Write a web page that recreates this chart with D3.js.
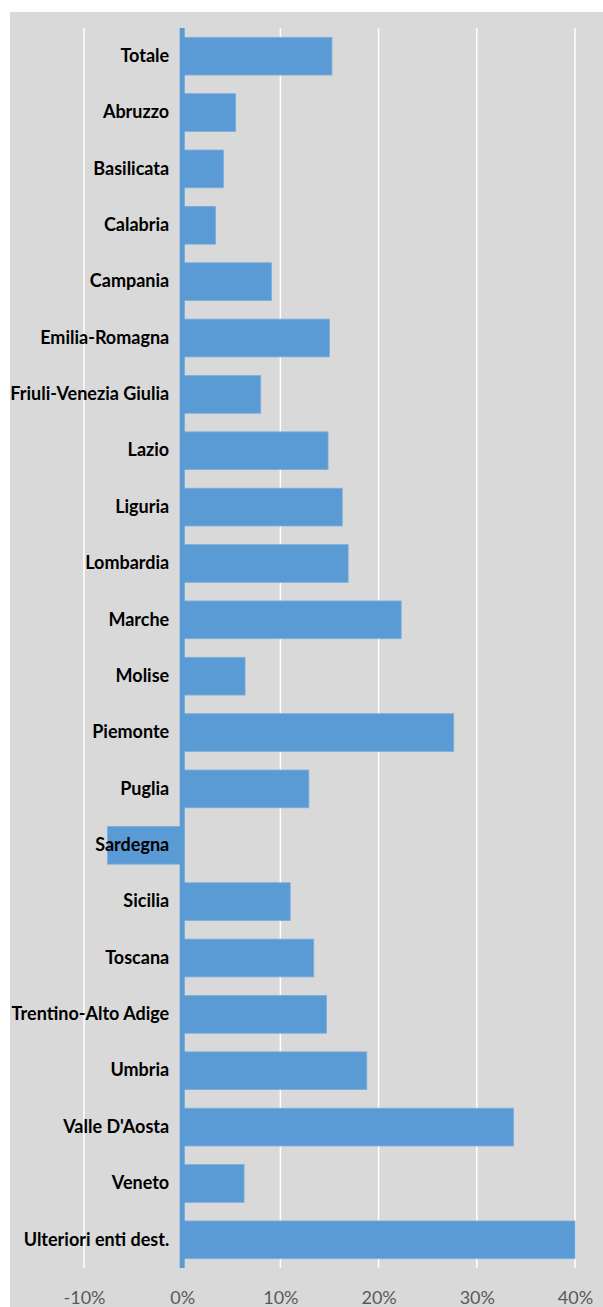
<!DOCTYPE html>
<html>
<head>
<meta charset="utf-8">
<script src="https://cdn.jsdelivr.net/npm/d3@7"></script>
<style>
    body { margin: 0; background: #ffffff; }
</style>
</head>
<body>
<script>
// Data
const categories = ["Totale", "Abruzzo", "Basilicata", "Calabria", "Campania", "Emilia-Romagna",
    "Friuli-Venezia Giulia", "Lazio", "Liguria", "Lombardia", "Marche", "Molise", "Piemonte",
    "Puglia", "Sardegna", "Sicilia", "Toscana", "Trentino-Alto Adige", "Umbria", "Valle D'Aosta",
    "Veneto", "Ulteriori enti dest."];
const values = [0.1525, 0.0545, 0.042, 0.034, 0.091, 0.150, 0.080, 0.1485, 0.163, 0.169, 0.223,
    0.064, 0.2765, 0.129, -0.076, 0.110, 0.134, 0.147, 0.188, 0.3375, 0.063, 0.400];
const tickValues = [-0.1, 0, 0.1, 0.2, 0.3, 0.4];
const tickLabels = ["-10%", "0%", "10%", "20%", "30%", "40%"];
const xDomain = [-0.1, 0.4];

let margin = null,
    width = null,
    height = null;

let svg = null, root = null;
let x, y = null;

// Main Process
setupCanvasSize();
appendSvg("body");
setupXScale();
setupYScale();
appendGridLines();
appendChartBars();
appendZeroLine();
appendXAxis();
appendYAxis();

function setupCanvasSize() {
    margin = {top: 28, left: 84, bottom: 39, right: 28};
    width = 603 - margin.left - margin.right;
    height = 1307 - margin.top - margin.bottom;
}

function appendSvg(domElement) {
    root = d3.select(domElement).append("svg")
            .attr("width", 603)
            .attr("height", 1307);

    root.append("clipPath")
        .attr("id", "chartClip")
        .append("rect")
        .attr("x", 10).attr("y", 12)
        .attr("width", 593).attr("height", 1295);

    let area = root.append("g").attr("clip-path", "url(#chartClip)");

    area.append("rect")
        .attr("x", 10).attr("y", 12)
        .attr("width", 593).attr("height", 1295)
        .attr("fill", "#d9d9d9");

    svg = area.append("g")
            .attr("transform", `translate(${margin.left}, ${margin.top})`);
}

function setupXScale() {
    x = d3.scaleLinear()
            .domain(xDomain)
            .range([0, width]);
}

function setupYScale() {
    y = d3.scaleBand()
            .domain(categories)
            .range([0, height])
            .paddingInner(0.33)
            .paddingOuter(0.165);
}

// white vertical gridlines
function appendGridLines() {
    svg.append("g")
        .selectAll("line")
        .data(tickValues.filter(d => d !== 0))
        .enter()
        .append("line")
        .attr("x1", d => x(d))
        .attr("x2", d => x(d))
        .attr("y1", 0)
        .attr("y2", height)
        .attr("stroke", "#ffffff")
        .attr("stroke-width", 1.5);
}

function appendChartBars() {
    svg.append("g")
        .selectAll("rect")
        .data(categories)
        .enter()
        .append("rect")
        .attr("x", (d, i) => x(Math.min(0, values[i])))
        .attr("width", (d, i) => Math.abs(x(values[i]) - x(0)))
        .attr("y", d => y(d))
        .attr("height", y.bandwidth())
        .attr("fill", "#5b9bd5")
        .attr("stroke", "#7eaedd")
        .attr("stroke-width", 0.8);
}

function appendZeroLine() {
    svg.append("line")
        .attr("x1", x(0))
        .attr("x2", x(0))
        .attr("y1", 0)
        .attr("y2", height)
        .attr("stroke", "#5b9bd5")
        .attr("stroke-width", 5);
}

function appendXAxis() {
    let ax = svg.append("g")
        .attr("transform", `translate(0, ${height})`)
        .call(d3.axisBottom(x)
            .tickValues(tickValues)
            .tickSize(0)
            .tickPadding(23)
            .tickFormat((d, i) => tickLabels[i]));
    ax.select(".domain").remove();
    ax.selectAll("text")
        .attr("font-family", "Lato, 'Open Sans', sans-serif")
        .attr("font-size", 18)
        .attr("fill", "#595959");
}

// category labels sit left of the 0% line, drawn over the bars
function appendYAxis() {
    let ay = svg.append("g")
        .attr("transform", `translate(${x(0)}, 0)`)
        .call(d3.axisLeft(y)
            .tickSize(0)
            .tickPadding(13));
    ay.select(".domain").remove();
    ay.selectAll("text")
        .attr("font-family", "Lato, 'Open Sans', sans-serif")
        .attr("font-weight", "bold")
        .attr("font-size", 18)
        .attr("fill", "#000000");
}
</script>
</body>
</html>
